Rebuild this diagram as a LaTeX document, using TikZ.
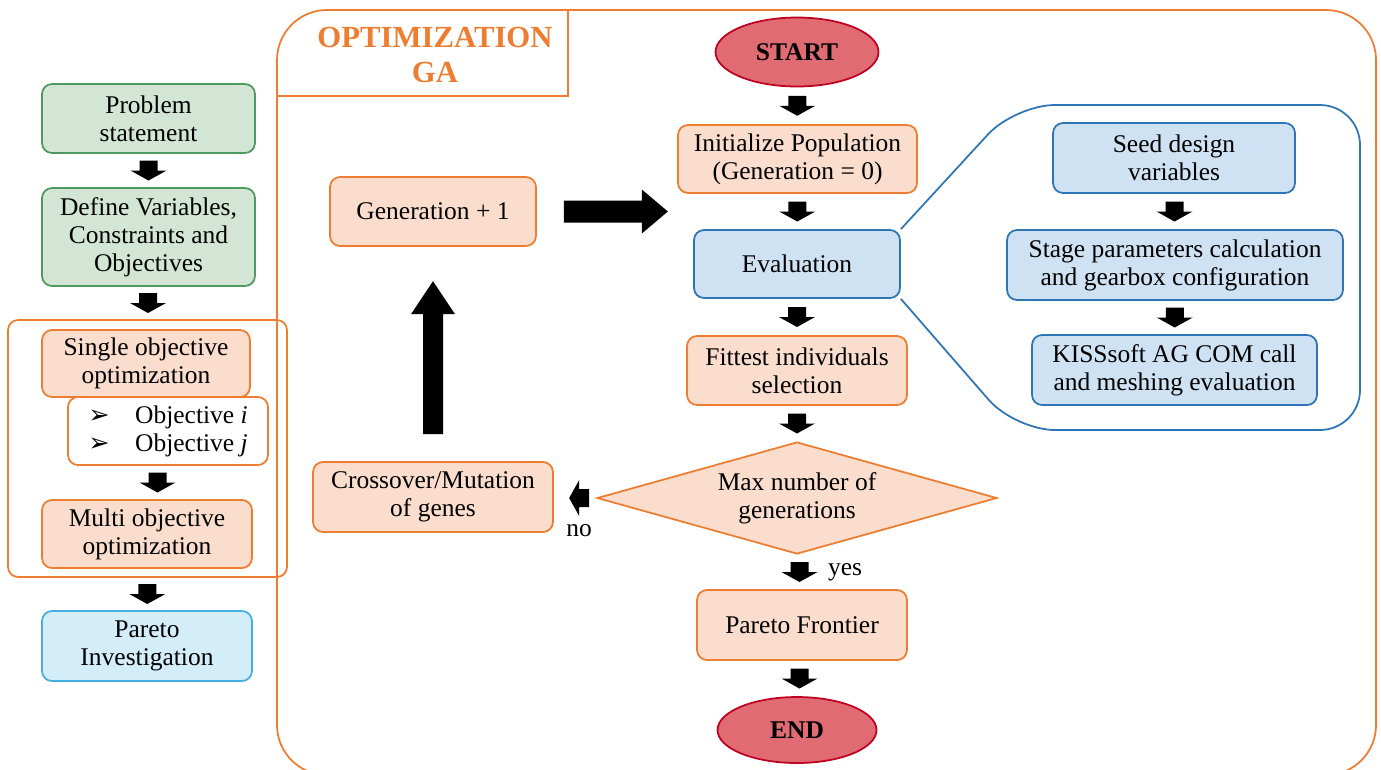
\documentclass[tikz,border=0pt]{standalone}
\usepackage{fontspec}
\setmainfont{Liberation Serif}
\newfontfamily\symfont{DejaVu Sans}
\usetikzlibrary{positioning, calc, shapes.geometric}

\definecolor{orgrand}{HTML}{ED7D31}
\definecolor{orgfill}{HTML}{FADDCC}
\definecolor{grrand}{HTML}{4E9A5E}
\definecolor{grfill}{HTML}{D3E6D5}
\definecolor{blrand}{HTML}{2E75B6}
\definecolor{blfill}{HTML}{CFE2F3}
\definecolor{cyrand}{HTML}{45B0E0}
\definecolor{cyfill}{HTML}{D3EEF9}
\definecolor{rtrand}{HTML}{C00020}
\definecolor{rtfill}{HTML}{E06B72}

% Blockpfeile zwischen zwei Knoten
\newcommand{\dnarr}[1]{\fill #1 ++(-9,-10) -- ++(18,0) -- ++(0,10) -- ++(9,0) -- ++(-18,10) -- ++(-18,-10) -- ++(9,0) -- cycle;}
\newcommand{\ltarr}[1]{\fill #1 ++(10,-9) -- ++(0,18) -- ++(-10,0) -- ++(0,9) -- ++(-10,-18) -- ++(10,-18) -- ++(0,9) -- cycle;}

\begin{document}
\begin{tikzpicture}[
    x=0.02cm, y=-0.02cm,
    font=\fontsize{14.5}{16}\selectfont,
    box/.style={rectangle, rounded corners=0.2cm, line width=1pt, align=center, inner sep=2pt},
    gbox/.style={box, draw=grrand, fill=grfill},
    obox/.style={box, draw=orgrand, fill=orgfill},
    bbox/.style={box, draw=blrand, fill=blfill},
    cbox/.style={box, draw=cyrand, fill=cyfill},
    term/.style={ellipse, draw=rtrand, fill=rtfill, line width=1pt, inner sep=0pt,
      font=\fontsize{14.5}{16}\selectfont\bfseries}
  ]
  \useasboundingbox (0,0) rectangle (1381,769);

  % linke Spalte
  \node[gbox, minimum width=4.26cm, minimum height=1.38cm] (prob) at (148.5,118.5) {Problem\\statement};
  \node[gbox, minimum width=4.26cm, minimum height=1.96cm] (defv) at (148.5,237) {Define Variables,\\Constraints and\\Objectives};
  \node[box, draw=orgrand, minimum width=5.58cm, minimum height=5.14cm] (optgrp) at (147.5,448.5) {};
  \node[obox, minimum width=4.16cm, minimum height=1.34cm] (single) at (146,363.5) {Single objective\\optimization};
  \node[box, draw=orgrand, fill=white, minimum width=4cm, minimum height=1.36cm, align=left] (obj) at (168,431)
    {{\symfont ➢}\quad Objective \textit{i}\\{\symfont ➢}\quad Objective \textit{j}};
  \node[obox, minimum width=4.2cm, minimum height=1.36cm] (multi) at (147,534) {Multi objective\\optimization};
  \node[cbox, minimum width=4.2cm, minimum height=1.4cm] (pinv) at (147,646) {Pareto\\Investigation};

  \dnarr{($(prob.south)!0.5!(defv.north)$)}
  \dnarr{($(defv.south)!0.5!(optgrp.north)$)}
  \dnarr{($(obj.south)!0.5!(multi.north)$)}
  \dnarr{($(optgrp.south)!0.5!(pinv.north)$)}

  % Rahmen GA
  \begin{scope}
    \clip (0,0) rectangle (1381,769);
    \draw[orgrand, line width=1pt, rounded corners=1cm] (277,10) rectangle (1376,775);
  \end{scope}
  \draw[orgrand, line width=1pt] (277,96) -- (568,96) -- (568,10);
  \node[text=orgrand, font=\fontsize{17.5}{20}\selectfont\bfseries, align=center] (title) at (435,55) {OPTIMIZATION\\GA};

  % Hauptablauf
  \node[term, minimum width=3.26cm, minimum height=1.38cm] (start) at (797,52) {START};
  \node[obox, minimum width=4.78cm, minimum height=1.36cm] (init) at (797.5,159) {Initialize Population\\(Generation = 0)};
  \node[bbox, minimum width=4.12cm, minimum height=1.36cm] (eval) at (797,264) {Evaluation};
  \node[obox, minimum width=4.4cm, minimum height=1.38cm] (fit) at (797,370.5) {Fittest individuals\\selection};
  \node[diamond, draw=orgrand, fill=orgfill, line width=1pt, aspect=3.57, inner sep=0pt, align=center,
    minimum width=8cm, minimum height=2.24cm] (maxg) at (797,498) {Max number of\\generations};
  \node[obox, minimum width=4.2cm, minimum height=1.4cm] (pf) at (802,625) {Pareto Frontier};
  \node[term, minimum width=3.18cm, minimum height=1.32cm] (end) at (797,730) {END};

  \dnarr{($(start.south)!0.5!(init.north)$)}
  \dnarr{($(init.south)!0.5!(eval.north)$)}
  \dnarr{($(eval.south)!0.5!(fit.north)$)}
  \dnarr{($(fit.south)!0.5!(maxg.north)$)}
  \dnarr{($(maxg.south)!0.5!(pf.north)$)}
  \dnarr{($(pf.south)!0.5!(end.north)$)}
  \node (yeslbl) at (845,572) {yes};

  % Schleife zurueck
  \node[obox, minimum width=4.12cm, minimum height=1.38cm] (gen) at (433,211.5) {Generation + 1};
  \node[obox, minimum width=4.8cm, minimum height=1.4cm] (cross) at (433,497) {Crossover/Mutation\\of genes};

  \ltarr{($(maxg.west)+(-17,0)$)}
  \node (nolbl) at (579,531) {no};
  \fill ($(cross.north)+(-10,-27)$) -- ++(0,-120) -- ++(-12,0) -- ++(22,-33) -- ++(22,33) -- ++(-12,0) -- ++(0,120) -- cycle;
  \fill ($(gen.east)+(27,-11)$) -- ++(78,0) -- ++(0,-11) -- ++(26,22) -- ++(-26,22) -- ++(0,-11) -- ++(-78,0) -- cycle;

  % Detail der Bewertung
  \draw[blrand, line width=1pt, rounded corners=0.8cm] (eval.north east) -- (1015,105) -- (1360,105)
    -- (1360,430) -- (1015,430) -- (eval.south east);
  \node[bbox, minimum width=4.84cm, minimum height=1.4cm] (seed) at (1174,158) {Seed design\\variables};
  \node[bbox, minimum width=6.72cm, minimum height=1.4cm] (stage) at (1175,265) {Stage parameters calculation\\and gearbox configuration};
  \node[bbox, minimum width=5.7cm, minimum height=1.4cm] (kiss) at (1174.5,370) {KISSsoft AG COM call\\and meshing evaluation};

  \dnarr{($(seed.south)!0.5!(stage.north)$)}
  \dnarr{($(stage.south)!0.5!(kiss.north)$)}
\end{tikzpicture}
\end{document}
